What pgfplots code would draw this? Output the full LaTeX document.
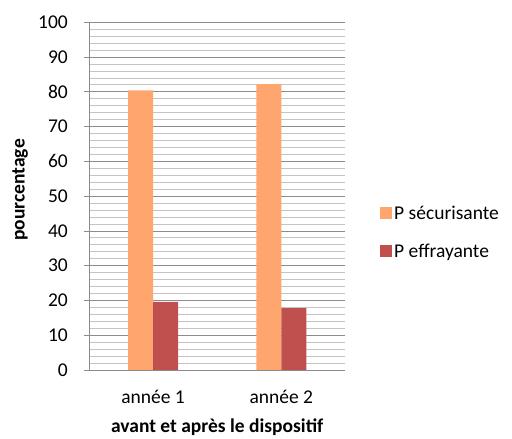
\documentclass[border=0pt]{standalone}
\usepackage{pgfplots}
\pgfplotsset{compat=1.18}
\usepackage{fontspec}
\setmainfont{Carlito}
\definecolor{orangebar}{HTML}{FFA56E}
\definecolor{redbar}{HTML}{C0504D}
\definecolor{majgrid}{HTML}{8C8C8C}
\definecolor{mingrid}{HTML}{C4C4C4}
\begin{document}
\fontsize{19.5}{23}\selectfont
\begin{tikzpicture}
\useasboundingbox (0,0) rectangle (512pt,439pt);
\begin{axis}[
  at={(89pt,69pt)}, anchor=south west,
  scale only axis, width=256.4pt, height=347.7pt,
  xmin=0.5, xmax=2.5, ymin=0, ymax=100,
  ybar=0pt, bar width=25pt,
  xtick={1,2}, xticklabels={année 1, année 2},
  x tick style={draw=none},
  ytick={0,10,...,100},
  minor y tick num=4,
  ymajorgrids, yminorgrids,
  major grid style={majgrid, line width=0.8pt},
  minor grid style={mingrid, line width=0.8pt},
  axis x line*=bottom, axis y line*=left,
  axis line style={majgrid, line width=0.8pt, -},
  y tick style={majgrid, line width=0.8pt},
  major tick length=5pt, minor tick length=0pt,
  tick align=outside,
  /pgf/number format/assume math mode=true,
  yticklabel style={inner sep=0pt, anchor=east, xshift=-16pt},
  xticklabel style={inner sep=0pt, anchor=base, yshift=-29pt},
  xlabel={\textbf{avant et après le dispositif}},
  xlabel style={at={(axis description cs:0.5,0)}, anchor=base, yshift=-63pt, inner sep=0pt},
  ylabel={\textbf{pourcentage}},
  ylabel style={at={(axis description cs:-0.269,0.518)}, anchor=center, inner sep=0pt},
  legend style={at={(axis description cs:1.135,0.394)}, anchor=west, draw=none, fill=none, inner sep=0pt, row sep=18pt, font=\fontsize{19.5}{23}\selectfont},
  legend cell align=left,
  legend image code/.code={\fill[#1] (0pt,-5pt) rectangle (12pt,7pt);},
]
\addplot[fill=orangebar, draw=none] coordinates {(1,80.4) (2,82.2)};
\addlegendentry{P sécurisante}
\addplot[fill=redbar, draw=none] coordinates {(1,19.6) (2,17.8)};
\addlegendentry{P effrayante}
\end{axis}
\end{tikzpicture}
\end{document}
